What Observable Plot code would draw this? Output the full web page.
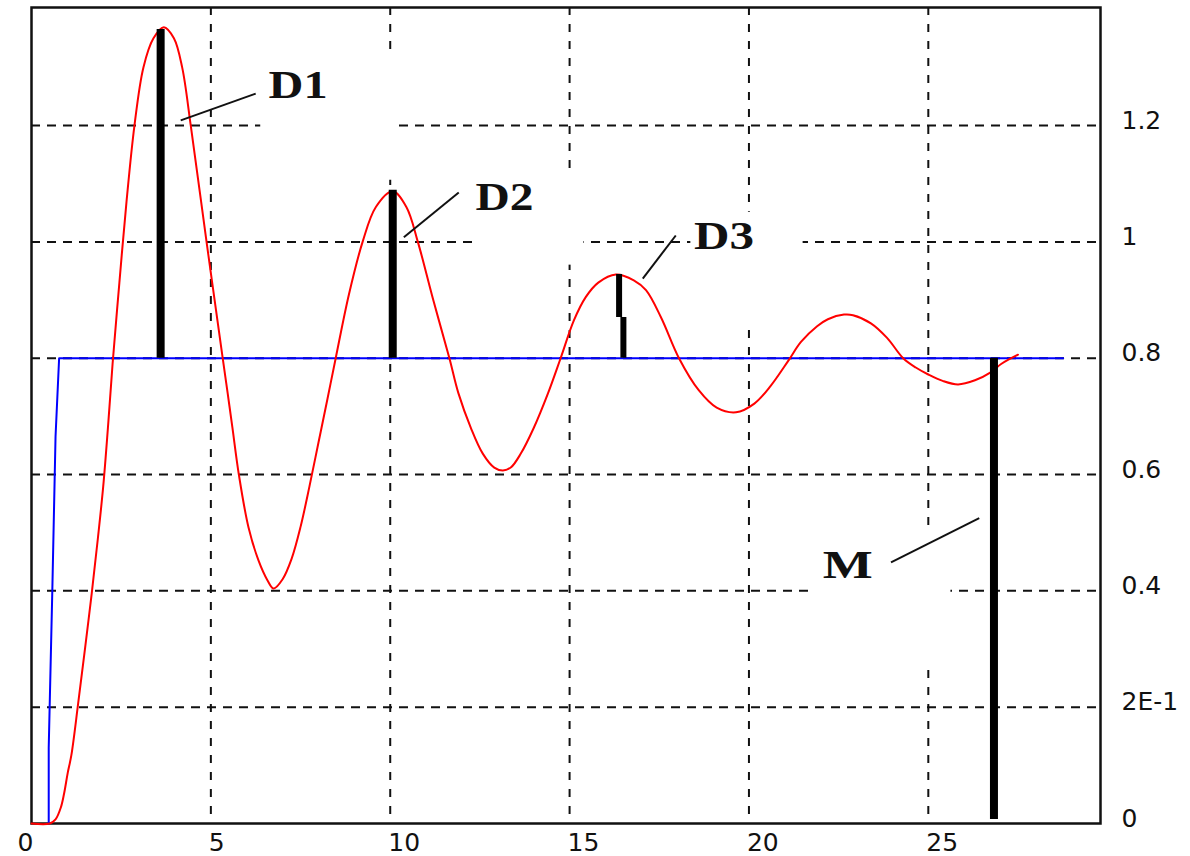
<!DOCTYPE html>
<html>
<head>
<meta charset="utf-8">
<script src="https://cdn.jsdelivr.net/npm/d3@7"></script>
<script src="https://cdn.jsdelivr.net/npm/@observablehq/plot@0.6"></script>
<style>
  html, body { margin: 0; padding: 0; background: #fff; }
  #chart { width: 1190px; height: 856px; }
</style>
</head>
<body>
<div id="chart"></div>
<script>
// ---------- data ----------
const xGrid = [5, 10, 15, 20, 25];
const yGrid = [0.2, 0.4, 0.6, 0.8, 1, 1.2];
const xTicks = [5, 10, 15, 20, 25];
const xTickLabels = ["5", "10", "15", "20", "25"];
const yTicks = [0, 0.2, 0.4, 0.6, 0.8, 1, 1.2];
const yTickLabels = ["0", "2E-1", "0.4", "0.6", "0.8", "1", "1.2"];

// red response curve
const redX = [0, 0.51, 0.67, 0.82, 0.91, 1.01, 1.11, 1.30, 1.49, 1.68, 1.85, 2.0, 2.13, 2.26, 2.45, 2.65, 2.87, 3.12, 3.4, 3.69, 3.97, 4.2, 4.44, 4.88, 5.33, 5.47, 5.6, 5.78, 6.05, 6.33, 6.58, 6.75, 7.0, 7.25, 7.5, 7.75, 8.0, 8.25, 8.48, 8.85, 9.23, 9.6, 10.07, 10.45, 10.77, 11.2, 11.65, 11.9, 12.25, 12.58, 12.9, 13.14, 13.36, 13.64, 14.0, 14.4, 14.75, 15.12, 15.45, 15.8, 16.29, 16.79, 17.13, 17.55, 18.05, 18.6, 19.1, 19.64, 20.15, 20.6, 21.09, 21.45, 21.9, 22.2, 22.65, 22.9, 23.4, 23.85, 24.3, 24.65, 25.0, 25.4, 25.83, 26.3, 26.75, 27.03, 27.5];
const redY = [0, 0, 0.007, 0.028, 0.052, 0.087, 0.117, 0.206, 0.30, 0.396, 0.49, 0.58, 0.68, 0.79, 0.93, 1.07, 1.2, 1.30, 1.35, 1.369, 1.35, 1.30, 1.20, 1.00, 0.80, 0.739, 0.681, 0.60, 0.509, 0.452, 0.418, 0.404, 0.42, 0.455, 0.51, 0.58, 0.655, 0.73, 0.80, 0.91, 1.00, 1.06, 1.087, 1.06, 1.00, 0.90, 0.80, 0.74, 0.68, 0.636, 0.612, 0.607, 0.612, 0.636, 0.68, 0.74, 0.80, 0.865, 0.905, 0.93, 0.944, 0.934, 0.917, 0.87, 0.80, 0.745, 0.715, 0.707, 0.722, 0.752, 0.795, 0.828, 0.855, 0.867, 0.875, 0.874, 0.86, 0.835, 0.80, 0.784, 0.772, 0.761, 0.755, 0.762, 0.776, 0.79, 0.806];

// blue set-point curve
const blueX = [0.48, 0.48, 0.58, 0.67, 0.77, 28.76];
const blueY = [0, 0.13, 0.40, 0.665, 0.80, 0.80];

// thick black deviation bars (D1, D2, M)
const barX = [3.6, 10.07, 26.83];
const barY1 = [0.8, 0.8, 0.007];
const barY2 = [1.365, 1.089, 0.8];
// D3 bar (two pieces)
const d3BarX = [16.38, 16.5];
const d3BarY1 = [0.87, 0.8];
const d3BarY2 = [0.944, 0.87];

// annotation leader lines
const leadX1 = [4.16, 10.38, 17.04, 23.96];
const leadY1 = [1.209, 1.008, 0.937, 0.449];
const leadX2 = [6.25, 11.91, 17.96, 26.42];
const leadY2 = [1.255, 1.085, 1.011, 0.525];

// labels
const labelText = ["D1", "D2", "D3", "M"];
const labelX = [6.61, 12.38, 18.47, 22.06];
const labelY = [1.269, 1.076, 1.010, 0.444];

// white label boxes (clear the grid behind labels)
const boxX1 = [6.39, 12.44, 18.38, 21.81];
const boxX2 = [10.21, 15.40, 21.51, 25.63];
const boxY1 = [1.106, 0.960, 0.853, 0.277];
const boxY2 = [1.321, 1.123, 1.051, 0.499];

// ---------- build ----------
const idx = (arr) => arr.map((_, i) => i);
const red = idx(redX).map(i => ({x: redX[i], y: redY[i]}));
const blue = idx(blueX).map(i => ({x: blueX[i], y: blueY[i]}));
const bars = idx(barX).map(i => ({x: barX[i], y1: barY1[i], y2: barY2[i]}));
const d3bars = idx(d3BarX).map(i => ({x: d3BarX[i], y1: d3BarY1[i], y2: d3BarY2[i]}));
const leads = idx(leadX1).map(i => ({x1: leadX1[i], y1: leadY1[i], x2: leadX2[i], y2: leadY2[i]}));
const labels = idx(labelText).map(i => ({t: labelText[i], x: labelX[i], y: labelY[i]}));
const boxes = idx(boxX1).map(i => ({x1: boxX1[i], x2: boxX2[i], y1: boxY1[i], y2: boxY2[i]}));

const labelWidths = {"D1": 59, "D2": 58, "D3": 60, "M": 50};

const tickFont = {fontSize: 25, fontFamily: "DejaVu Sans"};

const chart = Plot.plot({
  width: 1190,
  height: 856,
  marginLeft: 31,
  marginRight: 90,
  marginTop: 7,
  marginBottom: 33,
  style: {background: "white", fontFamily: "DejaVu Sans", color: "#111"},
  x: {domain: [0, 29.8]},
  y: {domain: [0, 1.403]},
  marks: [
    Plot.ruleX(xGrid, {stroke: "#111", strokeWidth: 2, strokeDasharray: "8,9"}),
    Plot.ruleY(yGrid, {stroke: "#111", strokeWidth: 2, strokeDasharray: "9,7"}),
    Plot.rect(boxes, {x1: "x1", x2: "x2", y1: "y1", y2: "y2", fill: "white"}),
    Plot.frame({stroke: "#111", strokeWidth: 2.5}),
    Plot.line(blue, {x: "x", y: "y", stroke: "#0000ff", strokeWidth: 2}),
    Plot.line(red, {x: "x", y: "y", stroke: "#ff0000", strokeWidth: 2, curve: "catmull-rom"}),
    Plot.ruleX(bars, {x: "x", y1: "y1", y2: "y2", stroke: "black", strokeWidth: 8}),
    Plot.ruleX(d3bars, {x: "x", y1: "y1", y2: "y2", stroke: "black", strokeWidth: 6}),
    Plot.link(leads, {x1: "x1", y1: "y1", x2: "x2", y2: "y2", stroke: "#111", strokeWidth: 2}),
    Plot.text(labels, {x: "x", y: "y", text: "t", textAnchor: "start", lineAnchor: "middle",
      fontSize: 40, fontWeight: "bold", fontFamily: "Liberation Serif", fill: "#111"}),
    Plot.axisX(xTicks, {tickSize: 0, tickPadding: 10, textAnchor: "start", dx: -2, label: null,
      tickFormat: d => xTickLabels[xTicks.indexOf(d)], ...tickFont}),
    Plot.axisX([0], {tickSize: 0, tickPadding: 10, textAnchor: "end", dx: 2, label: null,
      tickFormat: () => "0", ...tickFont}),
    Plot.axisY(yTicks, {anchor: "right", tickSize: 0, tickPadding: 21, dy: -5, label: null,
      tickFormat: d => yTickLabels[yTicks.indexOf(d)], ...tickFont})
  ]
});

chart.querySelectorAll("text").forEach(t => {
  const w = labelWidths[t.textContent];
  if (w && t.getAttribute("font-size") !== "25") {
    t.setAttribute("textLength", w);
    t.setAttribute("lengthAdjust", "spacingAndGlyphs");
  }
});

document.getElementById("chart").appendChild(chart);
</script>
</body>
</html>
